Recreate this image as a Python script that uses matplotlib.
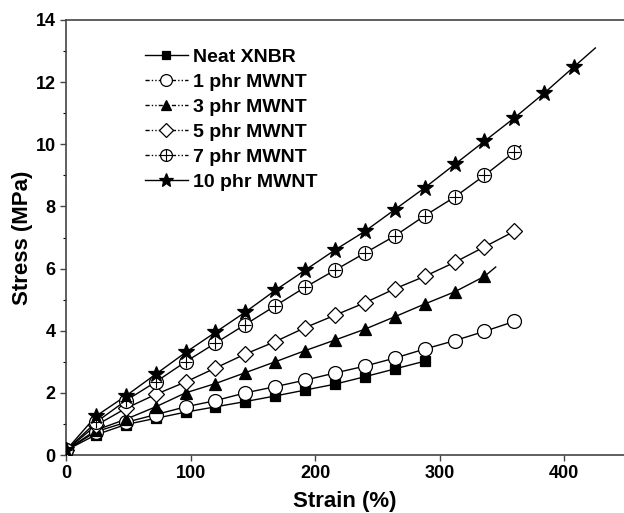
import numpy as np
import matplotlib
matplotlib.use("Agg")
import matplotlib.pyplot as plt
from matplotlib.lines import Line2D
from matplotlib.legend_handler import HandlerTuple

plt.rcParams["font.family"] = ["Liberation Sans", "DejaVu Sans"]
plt.rcParams["font.weight"] = "bold"

# Strain points (%) shared by all samples
strain = [0, 24, 48, 72, 96, 120, 144, 168, 192, 216, 240, 264, 288,
          312, 336, 360, 384, 408]

labels = ["Neat XNBR", "1 phr MWNT", "3 phr MWNT", "5 phr MWNT",
          "7 phr MWNT", "10 phr MWNT"]

# Stress (MPa)
neat = [0.15, 0.65, 0.98, 1.18, 1.38, 1.55, 1.72, 1.9, 2.09, 2.28, 2.52, 2.77, 3.02]
phr1 = [0.15, 0.75, 1.05, 1.3, 1.55, 1.75, 2.0, 2.2, 2.41, 2.64, 2.86, 3.12, 3.41,
        3.68, 3.98, 4.3]
phr3 = [0.15, 0.8, 1.15, 1.55, 2.0, 2.3, 2.65, 3.0, 3.36, 3.7, 4.05, 4.45, 4.86,
        5.25, 5.75]
phr5 = [0.15, 0.95, 1.5, 1.95, 2.35, 2.8, 3.25, 3.65, 4.1, 4.5, 4.9, 5.35, 5.75,
        6.2, 6.7, 7.2]
phr7 = [0.15, 1.05, 1.75, 2.35, 3.0, 3.6, 4.2, 4.8, 5.4, 5.95, 6.5, 7.05, 7.7,
        8.3, 9.0, 9.75]
phr10 = [0.15, 1.25, 1.9, 2.6, 3.3, 3.95, 4.6, 5.3, 5.95, 6.6, 7.2, 7.9, 8.6,
         9.35, 10.1, 10.85, 11.65, 12.5]

# End of each fitted curve (strain, stress)
fit_end_strain = [288, 360, 345, 360, 365, 425]
fit_end_stress = [3.02, 4.3, 6.05, 7.2, 9.95, 13.1]

# Standard deviation of each point
err = [0.05, 0.08, 0.1, 0.1, 0.12, 0.15]

series = [neat, phr1, phr3, phr5, phr7, phr10]
markers = ["s", "o", "^", "D", "o", "*"]
fills = ["black", "white", "black", "white", "white", "black"]
sizes = [7, 10, 9, 8, 10, 12]
dashdot = (0, (3, 1.5, 1, 1.5, 1, 1.5))
legend_styles = ["-", dashdot, dashdot, dashdot, dashdot, "-"]

fig = plt.figure(figsize=(6.24, 5.13), dpi=100)
ax = fig.add_axes([66 / 624, 58 / 513, 558 / 624, 435 / 513])

for i, y in enumerate(series):
    x = strain[:len(y)]
    # fitted curve through the data
    lx = list(x) + ([fit_end_strain[i]] if fit_end_strain[i] > x[-1] else [])
    ly = list(y) + ([fit_end_stress[i]] if fit_end_strain[i] > x[-1] else [])
    ax.plot(lx, ly, "-", color="black", lw=1.0, zorder=2)
    ax.errorbar(x, y, yerr=err[i], fmt="none", ecolor="#555555", elinewidth=0.8,
                capsize=0, zorder=3)
    ax.plot(x, y, linestyle="none", marker=markers[i], ms=sizes[i],
            mfc=fills[i], mec="black", mew=0.9, zorder=4)
    if i == 4:
        ax.plot(x, y, linestyle="none", marker="+", ms=9, mec="black",
                mew=0.8, zorder=5)

# legend handles
handles = []
for i in range(6):
    h = Line2D([], [], color="black", lw=1.0, linestyle=legend_styles[i],
               marker=markers[i], ms=sizes[i] * 0.85, mfc=fills[i], mec="black",
               mew=0.9)
    if i == 4:
        cross = Line2D([], [], linestyle="none", marker="+", ms=8, mec="black",
                       mew=0.8)
        h = (h, cross)
    handles.append(h)
leg = ax.legend(handles, labels, loc="upper left", bbox_to_anchor=(0.11, 0.975),
                frameon=False, handlelength=2.2, handletextpad=0.3,
                labelspacing=0.38, prop={"weight": "bold", "size": 14},
                handler_map={tuple: HandlerTuple(ndivide=1, pad=0)})

ax.set_xlim(0, 448)
ax.set_ylim(0, 14)
ax.set_xticks([0, 100, 200, 300, 400])
ax.set_yticks(np.arange(0, 15, 2))
ax.set_yticks(np.arange(1, 14, 2), minor=True)
ax.spines["right"].set_visible(False)
for s in ["left", "bottom", "top"]:
    ax.spines[s].set_linewidth(1.2)
    ax.spines[s].set_color("#444444")
ax.tick_params(axis="both", which="major", direction="out", length=4,
               width=1.0, labelsize=13, color="#444444")
ax.tick_params(axis="y", which="minor", direction="out", length=2, width=0.8)
ax.tick_params(top=False)
for t in ax.get_xticklabels() + ax.get_yticklabels():
    t.set_fontweight("bold")

ax.set_xlabel("Strain (%)", fontsize=16, fontweight="bold", labelpad=6)
ax.set_ylabel("Stress (MPa)", fontsize=16, fontweight="bold", labelpad=2)

fig.savefig("out.png", dpi=100)
